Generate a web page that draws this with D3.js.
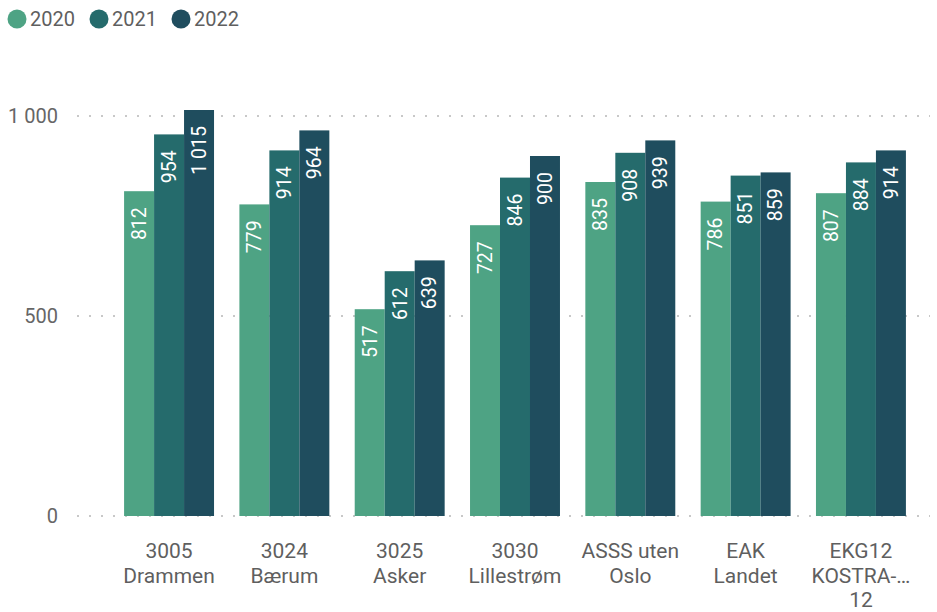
<!DOCTYPE html>
<html><head><meta charset="utf-8">
<script src="https://cdn.jsdelivr.net/npm/d3@7"></script>
<style>body{margin:0;background:#fff}svg{display:block}</style>
</head><body><svg id="c" width="937" height="612"></svg>
<script>
const categories = [["3005","Drammen"],["3024","Bærum"],["3025","Asker"],["3030","Lillestrøm"],["ASSS uten","Oslo"],["EAK","Landet"],["EKG12","KOSTRA-…","12"]];
const years = ["2020","2021","2022"];
const v2020 = [812,779,517,727,835,786,807];
const v2021 = [954,914,612,846,908,851,884];
const v2022 = [1015,964,639,900,939,859,914];
const yTicks = [0,500,1000];
const colors = ["#4EA384","#256B6C","#1F4D5E"];

const series = [v2020,v2021,v2022];
const svg = d3.select("#c");
const font = "Roboto, 'DejaVu Sans', sans-serif";
const y = d3.scaleLinear().domain([0,1000]).range([516,116]);
const x0 = d3.scaleBand().domain(categories.map((d,i)=>i)).range([111.4,918.6]).paddingInner(0.22).paddingOuter(0.11);
const x1 = d3.scaleBand().domain(years).range([0,x0.bandwidth()]);

// grid
svg.append("g").selectAll("line").data(yTicks).join("line")
  .attr("x1",77).attr("x2",930).attr("y1",d=>y(d)).attr("y2",d=>y(d))
  .attr("stroke","#c8c8c8").attr("stroke-width",2).attr("stroke-dasharray","2,10");
svg.append("g").selectAll("text").data(yTicks).join("text")
  .attr("x",58).attr("y",d=>y(d)).attr("dy","0.35em").attr("text-anchor","end")
  .attr("font-family",font).attr("font-size",20).attr("fill","#666")
  .text(d=>d3.format(",")(d).replace(/,/g," "));

// bars
const g = svg.append("g");
categories.forEach((c,i)=>{
  years.forEach((yr,j)=>{
    const val = series[j][i];
    const bx = x0(i)+x1(yr), bw = x1.bandwidth();
    g.append("rect").attr("x",bx).attr("y",y(val)).attr("width",bw).attr("height",y(0)-y(val)).attr("fill",colors[j]);
    const lx = bx+bw/2, ly = y(val)+16;
    g.append("text").attr("transform",`translate(${lx},${ly}) rotate(-90)`)
      .attr("text-anchor","end").attr("dy","0.35em")
      .attr("font-family",font).attr("font-size",19.5).attr("fill","#fff")
      .text(d3.format(",")(val).replace(/,/g," "));
  });
  const t = svg.append("text").attr("text-anchor","middle").attr("font-family",font)
    .attr("font-size",21).attr("fill","#5f5f5f");
  c.forEach((line,k)=>{
    t.append("tspan").attr("x",x0(i)+x0.bandwidth()/2).attr("y",558+k*24.5).text(line);
  });
});

// legend
const leg = [[17,30],[99,112],[181,194]];
years.forEach((yr,j)=>{
  svg.append("circle").attr("cx",leg[j][0]).attr("cy",19).attr("r",9.5).attr("fill",colors[j]);
  svg.append("text").attr("x",leg[j][1]).attr("y",19).attr("dy","0.35em")
    .attr("font-family",font).attr("font-size",20).attr("fill","#5f5f5f").text(yr);
});
</script></body></html>
